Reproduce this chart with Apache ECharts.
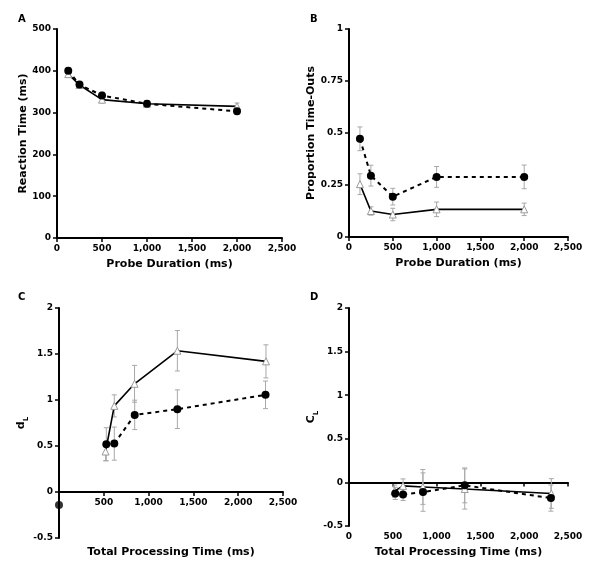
<!DOCTYPE html>
<html>
<head>
<meta charset="utf-8">
<title>Probe duration panels</title>
<script src="https://cdn.jsdelivr.net/npm/echarts@6/dist/echarts.min.js"></script>
<style>body{margin:0;background:#fff}#main{width:600px;height:571px}</style>
</head>
<body>
<div id="main"></div>
<script>
// probe durations (ms), panels A and B
var durations = [125, 250, 500, 1000, 2000];
// A: reaction time
var rtFilled = [400, 367, 341, 321, 303];
var rtFilledErr = [8, 7, 8, 8, 7];
var rtOpen = [392, 366, 331, 321, 315];
var rtOpenErr = [8, 7, 8, 8, 8];
// B: proportion time-outs
var toFilled = [0.472, 0.295, 0.194, 0.289, 0.289];
var toFilledErr = [0.057, 0.05, 0.04, 0.05, 0.057];
var toOpen = [0.254, 0.125, 0.108, 0.133, 0.133];
var toOpenErr = [0.05, 0.02, 0.03, 0.035, 0.03];
// C, D: total processing time (ms)
var tptFilled = [528, 617, 845, 1321, 2305];
var tptOpen = [520, 617, 843, 1321, 2310];
var dFilled = [0.519, 0.526, 0.838, 0.9, 1.056];
var dFilledErr = [0.18, 0.18, 0.16, 0.21, 0.15];
var dOpen = [0.44, 0.936, 1.176, 1.535, 1.42];
var dOpenErr = [0.1, 0.12, 0.2, 0.22, 0.18];
var dStray = [[0, -0.14]];
var cFilled = [-0.126, -0.138, -0.111, -0.034, -0.18];
var cFilledErr = [0.07, 0.07, 0.22, 0.2, 0.15];
var cOpen = [-0.1, -0.04, -0.052, -0.076, -0.127];
var cOpenErr = [0.07, 0.08, 0.2, 0.23, 0.17];

var myChart = echarts.init(document.getElementById('main'));
var FONT = 'DejaVu Sans';

function pairs(xs, ys) { return xs.map(function (x, i) { return [x, ys[i]]; }); }
function fmtX(v) { return String(v).replace(/\B(?=(\d{3})+(?!\d))/g, ','); }

function errSeries(ax, xs, ys, es) {
    return {
        type: 'custom', xAxisIndex: ax, yAxisIndex: ax, silent: true, z: 1,
        encode: { x: 0, y: [1, 2] },
        data: xs.map(function (x, i) { return [x, ys[i] - es[i], ys[i] + es[i]]; }),
        renderItem: function (params, api) {
            var lo = api.coord([api.value(0), api.value(1)]);
            var hi = api.coord([api.value(0), api.value(2)]);
            var st = { stroke: '#a8a8a8', lineWidth: 1 };
            return { type: 'group', children: [
                { type: 'line', shape: { x1: lo[0], y1: lo[1], x2: hi[0], y2: hi[1] }, style: st },
                { type: 'line', shape: { x1: lo[0] - 2.5, y1: lo[1], x2: lo[0] + 2.5, y2: lo[1] }, style: st },
                { type: 'line', shape: { x1: hi[0] - 2.5, y1: hi[1], x2: hi[0] + 2.5, y2: hi[1] }, style: st }
            ]};
        }
    };
}
function filledLine(ax, xs, ys) {
    return { type: 'line', xAxisIndex: ax, yAxisIndex: ax, data: pairs(xs, ys), z: 3,
        symbol: 'circle', symbolSize: 8, itemStyle: { color: '#000' },
        lineStyle: { color: '#000', width: 2, type: [4, 4] }, animation: false };
}
function openLine(ax, xs, ys) {
    return { type: 'line', xAxisIndex: ax, yAxisIndex: ax, data: pairs(xs, ys), z: 2,
        symbol: 'triangle', symbolSize: 7, showAllSymbol: true,
        itemStyle: { color: '#fff', borderColor: '#9a9a9a', borderWidth: 1 },
        lineStyle: { color: '#000', width: 1.6 }, animation: false };
}

var axisText = { color: '#000', fontFamily: FONT, fontWeight: 'bold', fontSize: 9 };
var nameText = { color: '#000', fontFamily: FONT, fontWeight: 'bold', fontSize: 11 };
var lineSt = { lineStyle: { color: '#000', width: 2 } };
var subRich = {
    d: { fontSize: 11, fontWeight: 'bold', fontFamily: FONT, color: '#000', verticalAlign: 'bottom' },
    s: { fontSize: 7, fontWeight: 'bold', fontFamily: FONT, color: '#000', verticalAlign: 'bottom', padding: [0, 0, -3, 0] }
};

function xAx(grid, opts) {
    return Object.assign({
        type: 'value', gridIndex: grid, min: 0, max: 2500, interval: 500,
        axisLine: Object.assign({ show: true, onZero: true }, lineSt),
        axisTick: { show: true, length: 4, lineStyle: { color: '#000', width: 1.5 } },
        axisLabel: Object.assign({ formatter: fmtX, margin: 6 }, axisText),
        splitLine: { show: false },
        nameLocation: 'middle', nameGap: 21, nameTextStyle: nameText
    }, opts);
}
function yAx(grid, opts) {
    return Object.assign({
        type: 'value', gridIndex: grid,
        axisLine: Object.assign({ show: true, onZero: false }, lineSt),
        axisTick: { show: true, length: 4, lineStyle: { color: '#000', width: 1.5 } },
        axisLabel: Object.assign({ margin: 6 }, axisText),
        splitLine: { show: false },
        nameLocation: 'middle', nameGap: 26, nameTextStyle: nameText
    }, opts);
}

function txt(t, x, y, size, align) {
    return { type: 'text', x: x, y: y, style: { text: t, fill: '#000', textAlign: align || 'left',
        font: 'bold ' + size + 'px "DejaVu Sans"' } };
}

var option = {
    backgroundColor: '#fff',
    animation: false,
    grid: [
        { left: 57, width: 225, top: 29, height: 209, outerBoundsMode: 'none' },
        { left: 349, width: 219, top: 29, height: 208, outerBoundsMode: 'none' },
        { left: 59, width: 224, top: 308, height: 230, outerBoundsMode: 'none' },
        { left: 349, width: 219, top: 308, height: 218, outerBoundsMode: 'none' },
        // upper part (0..2) of panel C, only used to carry its x axis at y = 0
        { left: 59, width: 224, top: 308, height: 184, outerBoundsMode: 'none' }
    ],
    graphic: [
        txt('A', 18, 14, 10), txt('B', 310, 14, 10), txt('C', 18, 292, 10), txt('D', 310, 292, 10),
        txt('Total Processing Time (ms)', 171, 547, 11, 'center')
    ],
    xAxis: [
        xAx(0, { name: 'Probe Duration (ms)' }),
        xAx(1, { name: 'Probe Duration (ms)' }),
        xAx(2, { axisLine: { show: false, onZero: false }, axisTick: { show: false }, axisLabel: { show: false } }),
        xAx(3, { name: 'Total Processing Time (ms)', nameGap: 21,
            axisLine: { show: false, onZero: false }, axisTick: { show: false } }),
        xAx(3, { position: 'top', axisLabel: { show: false },
            axisTick: { show: true, inside: true, length: 4, lineStyle: { color: '#000', width: 1.5 } },
            axisLine: { show: true, onZero: true, lineStyle: { color: '#000', width: 2 } } }),
        xAx(4, { axisLine: Object.assign({ show: true, onZero: false }, lineSt),
            axisLabel: Object.assign({ margin: 6, formatter: function (v) { return v === 0 ? '' : fmtX(v); } }, axisText) })
    ],
    yAxis: [
        yAx(0, { min: 0, max: 500, interval: 100, name: 'Reaction Time (ms)', nameGap: 28 }),
        yAx(1, { min: 0, max: 1, interval: 0.25, name: 'Proportion Time-Outs', nameGap: 32 }),
        yAx(2, { min: -0.5, max: 2, interval: 0.5, name: '{d|d}{s|L}', nameGap: 26,
            nameTextStyle: Object.assign({}, nameText, { rich: subRich }) }),
        yAx(3, { min: -0.5, max: 2, interval: 0.5, name: '{d|C}{s|L}', nameGap: 26,
            nameTextStyle: Object.assign({}, nameText, { rich: subRich }) }),
        yAx(4, { min: 0, max: 2, show: false })
    ],
    series: [
        errSeries(0, durations, rtOpen, rtOpenErr), errSeries(0, durations, rtFilled, rtFilledErr),
        openLine(0, durations, rtOpen), filledLine(0, durations, rtFilled),
        errSeries(1, durations, toOpen, toOpenErr), errSeries(1, durations, toFilled, toFilledErr),
        openLine(1, durations, toOpen), filledLine(1, durations, toFilled),
        errSeries(2, tptOpen, dOpen, dOpenErr), errSeries(2, tptFilled, dFilled, dFilledErr),
        openLine(2, tptOpen, dOpen), filledLine(2, tptFilled, dFilled),
        { type: 'scatter', xAxisIndex: 2, yAxisIndex: 2, data: dStray, symbolSize: 8, itemStyle: { color: '#000' }, z: 3 },
        errSeries(3, tptOpen, cOpen, cOpenErr), errSeries(3, tptFilled, cFilled, cFilledErr),
        openLine(3, tptOpen, cOpen), filledLine(3, tptFilled, cFilled)
    ]
};

myChart.setOption(option);
</script>
</body>
</html>
